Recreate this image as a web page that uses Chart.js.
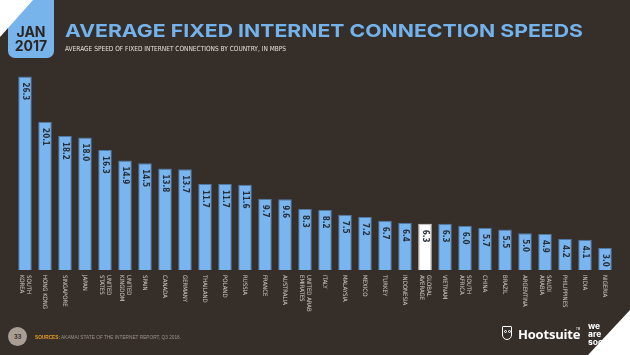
<!DOCTYPE html>
<html>
<head>
<meta charset="utf-8">
<script src="https://cdn.jsdelivr.net/npm/chart.js@4.4.1/dist/chart.umd.min.js"></script>
<style>
  html,body{margin:0;padding:0;}
  body{width:630px;height:355px;overflow:hidden;background:#352e29;position:relative;font-family:Inter,"Open Sans",sans-serif;}
  #c{position:absolute;left:0;top:0;}
  .abs{position:absolute;white-space:nowrap;}
  #tab{left:8px;top:-10px;width:46px;height:68px;background:#78b4ec;border-radius:7px;}
  #tri{left:0;top:0;width:0;height:0;border-top:37px solid #ffffff;border-right:33px solid transparent;}
  #jan{left:8px;top:25px;width:46px;text-align:center;color:#2c2622;font:700 14px/14px Inter,sans-serif;}
  #title{left:65px;top:21px;color:#74b2ec;font:700 18px/20px Inter,sans-serif;transform-origin:0 0;}
  #sub{left:65px;top:45px;color:#e6e1dc;font:400 7px/8px "Liberation Sans Narrow","DejaVu Sans Condensed",sans-serif;transform-origin:0 0;}
  #pg{left:8px;top:327px;width:19px;height:19px;border-radius:50%;background:#a99e94;color:#3a322c;font:700 6px/19px Inter,sans-serif;text-align:center;}
  #src{left:35px;top:334px;color:#9d948b;font:400 5px/6px "Liberation Sans",sans-serif;transform-origin:0 0;}
  #src b{color:#e9a125;}
  #hs{left:518px;top:326px;color:#ffffff;font:700 13px/16px "Open Sans",sans-serif;letter-spacing:-0.2px;}
  #tm{left:576px;top:327px;color:#fff;font:400 3px/4px sans-serif;}
  #owl{left:502px;top:326px;width:10px;height:14px;border:1.2px solid #fff;border-radius:1px 1px 5px 5px;box-sizing:border-box;}
  #owl i{position:absolute;top:3px;width:3px;height:3px;border:1px solid #fff;border-radius:50%;box-sizing:border-box;}
  #was{left:588px;top:322px;color:#ffffff;font:700 8.5px/8px Inter,sans-serif;}
  #tri2{left:588px;top:310px;width:0;height:0;border-bottom:45px solid #ffffff;border-left:42px solid transparent;}
</style>
</head>
<body>
<canvas id="c" width="630" height="355"></canvas>
<div class="abs" id="tab"></div>
<div class="abs" id="tri"></div>
<div class="abs" id="jan">JAN<br>2017</div>
<div class="abs" id="title">AVERAGE FIXED INTERNET CONNECTION SPEEDS</div>
<div class="abs" id="sub">AVERAGE SPEED OF FIXED INTERNET CONNECTIONS BY COUNTRY, IN MBPS</div>
<div class="abs" id="pg">33</div>
<div class="abs" id="src"><b>SOURCES:</b> AKAMAI STATE OF THE INTERNET REPORT, Q3 2016.</div>
<div class="abs" id="owl"><i style="left:1px"></i><i style="left:4.5px"></i></div>
<div class="abs" id="hs">Hootsuite</div>
<div class="abs" id="tm">TM</div>
<div class="abs" id="was">we<br>are<br>social</div>
<div class="abs" id="tri2"></div>
<script>
// ---- data ----
const categories = [
  ["SOUTH","KOREA"],"HONG KONG","SINGAPORE","JAPAN",["UNITED","STATES"],["UNITED","KINGDOM"],
  "SPAIN","CANADA","GERMANY","THAILAND","POLAND","RUSSIA","FRANCE","AUSTRALIA",
  ["UNITED ARAB","EMIRATES"],"ITALY","MALAYSIA","MEXICO","TURKEY","INDONESIA",
  ["GLOBAL","AVERAGE"],"VIETNAM",["SOUTH","AFRICA"],"CHINA","BRAZIL","ARGENTINA",
  ["SAUDI","ARABIA"],"PHILIPPINES","INDIA","NIGERIA"
];
const speeds = [26.3,20.1,18.2,18.0,16.3,14.9,14.5,13.8,13.7,11.7,11.7,11.6,9.7,9.6,
  8.3,8.2,7.5,7.2,6.7,6.4,6.3,6.3,6.0,5.7,5.5,5.0,4.9,4.2,4.1,3.0];
const highlightIndex = 20; // global average
const yMax = 28;

// fit header texts to widths measured on the reference
function fitWidth(id, w){
  const el = document.getElementById(id);
  const cur = el.getBoundingClientRect().width;
  el.style.transform = 'scaleX(' + (w/cur) + ')';
}
fitWidth('title', 518);
fitWidth('sub', 221);
fitWidth('src', 146);

const barFill = speeds.map((v,i)=> i===highlightIndex ? '#ffffff' : '#79b5ee');
const barBorder = speeds.map((v,i)=> i===highlightIndex ? '#d8d8d8' : '#4f7aa6');

const labelPlugin = {
  id:'customLabels',
  afterDatasetsDraw(chart){
    const ctx = chart.ctx;
    const meta = chart.getDatasetMeta(0);
    const xs = chart.scales.x;
    const base = chart.chartArea.bottom;
    ctx.save();
    // value labels inside bars, rotated clockwise
    ctx.fillStyle = '#26303b';
    ctx.font = '700 8px "Liberation Sans Narrow","DejaVu Sans Condensed",sans-serif';
    ctx.textAlign = 'left';
    ctx.textBaseline = 'middle';
    meta.data.forEach((bar,i)=>{
      ctx.save();
      ctx.translate(bar.x, bar.y + 6);
      ctx.rotate(Math.PI/2);
      ctx.fillText(speeds[i].toFixed(1), 0, 0);
      ctx.restore();
    });
    // category labels below axis, rotated clockwise
    ctx.fillStyle = '#cfc8c1';
    ctx.font = '400 6px "Liberation Sans Narrow","DejaVu Sans Condensed",sans-serif';
    categories.forEach((lab,i)=>{
      const lines = Array.isArray(lab) ? lab : [lab];
      const x = xs.getPixelForValue(i);
      ctx.save();
      ctx.translate(x, base + 5);
      ctx.rotate(Math.PI/2);
      const lh = 6.5;
      lines.forEach((ln,j)=>{
        ctx.fillText(ln, 0, (j-(lines.length-1)/2)*lh);
      });
      ctx.restore();
    });
    ctx.restore();
  }
};

new Chart(document.getElementById('c'), {
  type:'bar',
  data:{
    labels: categories,
    datasets:[{
      data: speeds,
      backgroundColor: barFill,
      borderColor: barBorder,
      borderWidth: 1,
      barPercentage: 0.68,
      categoryPercentage: 1.0
    }]
  },
  options:{
    responsive:false,
    animation:false,
    devicePixelRatio:1,
    layout:{padding:{left:15,right:15,top:64,bottom:85}},
    plugins:{legend:{display:false},tooltip:{enabled:false}},
    scales:{
      x:{display:false},
      y:{display:false,min:0,max:yMax}
    }
  },
  plugins:[labelPlugin]
});
</script>
</body>
</html>
